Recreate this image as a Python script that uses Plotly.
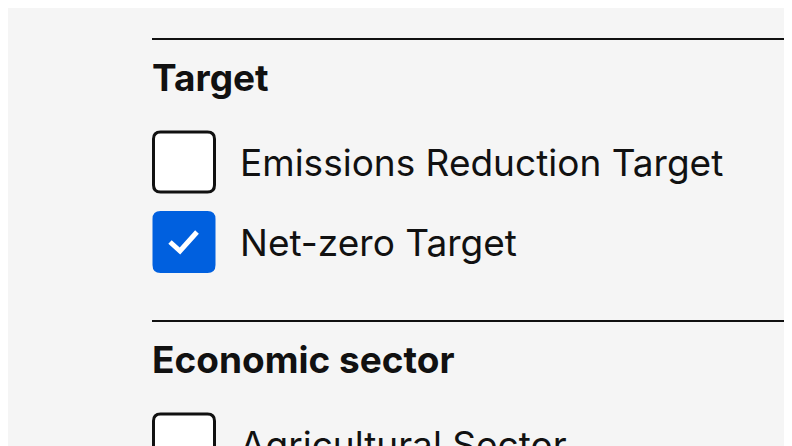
import plotly.graph_objects as go

# filter panel content
section_titles = ["Target", "Economic sector"]
section_tops = [39, 321]
target_options = ["Emissions Reduction Target", "Net-zero Target"]
target_checked = [False, True]
sector_options = ["Agricultural Sector"]
sector_checked = [False]

BLUE = "#0060df"
FONT = "Inter, Roboto, sans-serif"
OFF = 8  # page body margin shifts the plot by 8px

fig = go.Figure()
shapes = []
annotations = []


def rounded_box(x0, y0, x1, y1, r):
    return (f"M{x0+r},{y0} L{x1-r},{y0} Q{x1},{y0} {x1},{y0+r} "
            f"L{x1},{y1-r} Q{x1},{y1} {x1-r},{y1} L{x0+r},{y1} "
            f"Q{x0},{y1} {x0},{y1-r} L{x0},{y0+r} Q{x0},{y0} {x0+r},{y0} Z")


def add_section(top, title, options, checked):
    top -= OFF
    x = 152 - OFF
    shapes.append(dict(type="line", x0=x, x1=800, y0=top, y1=top,
                       line=dict(color="#111", width=2)))
    annotations.append(dict(x=x - 2, y=top + 38, text=f"<b>{title}</b>", xanchor="left",
                            yanchor="middle", showarrow=False,
                            font=dict(size=37, color="#111", family=FONT)))
    for i, (opt, on) in enumerate(zip(options, checked)):
        cy = top + 123 + i * 80
        path = rounded_box(x + 1.5, cy - 30, x + 62.5, cy + 30, 7)
        if on:
            shapes.append(dict(type="path", path=path, fillcolor=BLUE,
                               line=dict(color=BLUE, width=2)))
            shapes.append(dict(type="path",
                               path=f"M{x+18},{cy} L{x+28},{cy+9} L{x+45},{cy-10}",
                               line=dict(color="white", width=5)))
        else:
            shapes.append(dict(type="path", path=path, fillcolor="white",
                               line=dict(color="#111", width=3)))
        annotations.append(dict(x=x + 86, y=cy, text=opt, xanchor="left", yanchor="middle",
                                showarrow=False,
                                font=dict(size=37, color="#111", family=FONT)))


add_section(section_tops[0], section_titles[0], target_options, target_checked)
add_section(section_tops[1], section_titles[1], sector_options, sector_checked)

fig.update_layout(
    width=792, height=446, margin=dict(l=0, r=0, t=0, b=0),
    paper_bgcolor="#f5f5f5", plot_bgcolor="#f5f5f5",
    xaxis=dict(range=[0, 792], visible=False, fixedrange=True),
    yaxis=dict(range=[446, 0], visible=False, fixedrange=True),
    shapes=shapes, annotations=annotations, showlegend=False,
)
fig.write_html("out.html")
